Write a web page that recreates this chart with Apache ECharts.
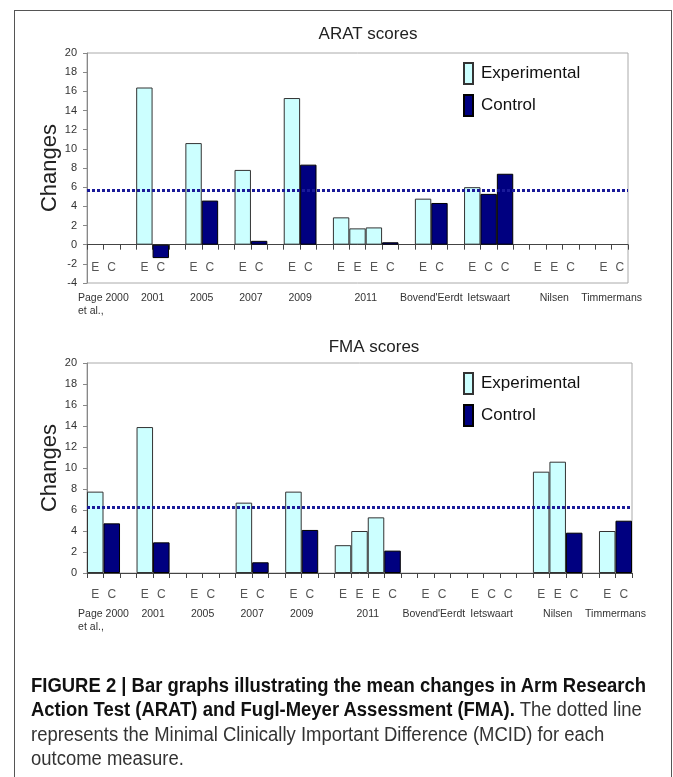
<!DOCTYPE html>
<html><head><meta charset="utf-8">
<script src="https://cdn.jsdelivr.net/npm/echarts@6/dist/echarts.min.js"></script>
<style>
html,body{margin:0;padding:0;background:#fff;width:673px;height:777px;overflow:hidden;}
#frame{position:absolute;left:14px;top:10px;width:658px;height:820px;border:1.5px solid #555;box-sizing:border-box;}
#chart{position:absolute;left:0;top:0;width:673px;height:777px;}
#caption{position:absolute;left:31px;top:673px;font-family:"Liberation Sans Narrow","Arial Narrow","Liberation Sans",Arial,sans-serif;font-size:20px;line-height:24.3px;color:#333;white-space:nowrap;}
#caption .ln{display:block;transform-origin:0 50%;width:max-content;}
#caption b{color:#111;}
</style></head>
<body>
<div id="frame"></div>
<div id="chart"></div>
<div id="caption">
<div class="ln"><b>FIGURE 2 | Bar graphs illustrating the mean changes in Arm Research</b></div>
<div class="ln"><b>Action Test (ARAT) and Fugl-Meyer Assessment (FMA).</b> The dotted line</div>
<div class="ln">represents the Minimal Clinically Important Difference (MCID) for each</div>
<div class="ln">outcome measure.</div>
</div>
<script>
// ---- data ----
const slots = ["E","C","","E","C","","E","C","","E","C","","E","C","","E","E","E","C","","E","C","","E","C","C","","E","E","C","","E","C"];
const groupNames = ["Page 2000\net al.,","2001","2005","2007","2009","2011","Bovend'Eerdt","Ietswaart","Nilsen","Timmermans"];
const groupSizes = [2,2,2,2,2,4,2,3,3,2];
const seriesNames = ["Experimental","Control"];

const aratExperimental = [null,null,null,16.4,null,null,10.6,null,null,7.8,null,null,15.3,null,null,2.85,1.7,1.8,null,null,4.8,null,null,6.0,null,null,null,null,null,null,null,null,null];
const aratControl      = [null,null,null,null,-1.4,null,null,4.6,null,null,0.4,null,null,8.35,null,null,null,null,0.25,null,null,4.35,null,null,5.3,7.4,null,null,null,null,null,null,null];
const fmaExperimental  = [7.75,null,null,13.9,null,null,null,null,null,6.7,null,null,7.75,null,null,2.65,4.0,5.3,null,null,null,null,null,null,null,null,null,9.65,10.6,null,null,4.0,null];
const fmaControl       = [null,4.73,null,null,2.92,null,null,null,null,null,1.02,null,null,4.1,null,null,null,null,2.13,null,null,null,null,null,null,null,null,null,null,3.84,null,null,4.98];
const mcidArat = 5.7;
const mcidFma = 6.3;
const aratTicks = {min:-4, max:20, interval:2};
const fmaTicks = {min:0, max:20, interval:2};
const titles = ["ARAT scores","FMA scores"];
const yName = "Changes";

// group centres (in slot units) derived from group sizes
const groupCenters = [];
{ let s = 0; groupSizes.forEach(n => { groupCenters.push(s + n/2); s += n + 1; }); }

const FONT = "Liberation Sans, Arial, sans-serif";
const expStyle = {color:'#CCFFFF', borderColor:'#333', borderWidth:1};
const ctlStyle = {color:'#000080', borderColor:'#000', borderWidth:1};

function catAxis(gi, margin){
  return {type:'category', gridIndex:gi, data:slots,
    axisLine:{onZero:true, lineStyle:{color:'#444', width:1}},
    axisTick:{show:true, interval:0, length:5, lineStyle:{color:'#444'}},
    axisLabel:{interval:0, color:'#555', fontSize:12, margin:margin, fontFamily:FONT},
    splitLine:{show:false}};
}
function groupAxis(gi, margin){
  return {type:'value', gridIndex:gi, min:0, max:slots.length, position:'bottom',
    axisLine:{show:false, onZero:false}, axisTick:{show:false}, splitLine:{show:false},
    axisLabel:{customValues:groupCenters, margin:margin, color:'#333', fontSize:10.5, lineHeight:13, fontFamily:FONT,
      formatter:function(v){
        const i = groupCenters.findIndex(c => Math.abs(c - v) < 1e-6);
        if (i < 0) return '';
        const t = groupNames[i];
        if (t.indexOf('\n') >= 0) { const p = t.split('\n'); return '{a|' + p[0] + '}\n{b|' + p[1] + '}'; }
        return t;
      },
      rich:{a:{fontSize:10.5, color:'#333', fontFamily:FONT, lineHeight:13},
            b:{fontSize:10.5, color:'#333', fontFamily:FONT, lineHeight:13, width:46, align:'left'}}
    }};
}
function valAxis(gi, t){
  return {type:'value', gridIndex:gi, min:t.min, max:t.max, interval:t.interval,
    name:yName, nameLocation:'middle', nameRotate:90, nameGap:26, nameMoveOverlap:false,
    nameTextStyle:{fontSize:22, color:'#222', fontFamily:FONT},
    axisLine:{show:true, lineStyle:{color:'#888'}},
    axisTick:{show:true, length:4, lineStyle:{color:'#888'}},
    axisLabel:{color:'#333', fontSize:11, margin:10, fontFamily:FONT},
    splitLine:{show:false}};
}
function mline(v){
  return {silent:true, symbol:'none', label:{show:false},
    lineStyle:{color:'#1a1a99', width:3, type:[3,2]}, data:[{yAxis:v}]};
}
function legend(top){
  return {data:seriesNames, orient:'vertical', left:463, top:top, padding:0, icon:'rect',
    itemWidth:9, itemHeight:21, itemGap:9,
    textStyle:{fontSize:17, color:'#111', fontFamily:FONT, padding:[0,0,0,3]}};
}

const chart = echarts.init(document.getElementById('chart'), null, {renderer:'canvas'});
chart.setOption({
  animation:false,
  title:[
    {text:titles[0], left:368, top:26, textAlign:'center', padding:0, textStyle:{fontSize:17, fontWeight:'normal', color:'#222', fontFamily:FONT}},
    {text:titles[1], left:374, top:339, textAlign:'center', padding:0, textStyle:{fontSize:17, fontWeight:'normal', color:'#222', fontFamily:FONT}}
  ],
  legend:[legend(62), legend(372)],
  grid:[
    {left:87, top:53, width:541, height:230, show:true, borderColor:'#aaa', borderWidth:1, backgroundColor:'transparent'},
    {left:87, top:363, width:545, height:210, show:true, borderColor:'#aaa', borderWidth:1, backgroundColor:'transparent'}
  ],
  xAxis:[catAxis(0, -21), groupAxis(0, 9), catAxis(1, 16), groupAxis(1, 35)],
  yAxis:[valAxis(0, aratTicks), valAxis(1, fmaTicks)],
  series:[
    {name:seriesNames[0], type:'bar', xAxisIndex:0, yAxisIndex:0, data:aratExperimental, barWidth:'100%', barGap:'-100%', itemStyle:expStyle, markLine:mline(mcidArat)},
    {name:seriesNames[1], type:'bar', xAxisIndex:0, yAxisIndex:0, data:aratControl, barWidth:'100%', barGap:'-100%', itemStyle:ctlStyle},
    {name:seriesNames[0], type:'bar', xAxisIndex:2, yAxisIndex:1, data:fmaExperimental, barWidth:'100%', barGap:'-100%', itemStyle:expStyle, markLine:mline(mcidFma)},
    {name:seriesNames[1], type:'bar', xAxisIndex:2, yAxisIndex:1, data:fmaControl, barWidth:'100%', barGap:'-100%', itemStyle:ctlStyle}
  ]
});

// fit caption lines to the printed width
(function(){
  const lines = document.querySelectorAll('#caption .ln');
  const w = lines[0].getBoundingClientRect().width;
  const s = 615 / w;
  lines.forEach(l => { l.style.transform = 'scaleX(' + s + ')'; });
})();
</script>
</body></html>
